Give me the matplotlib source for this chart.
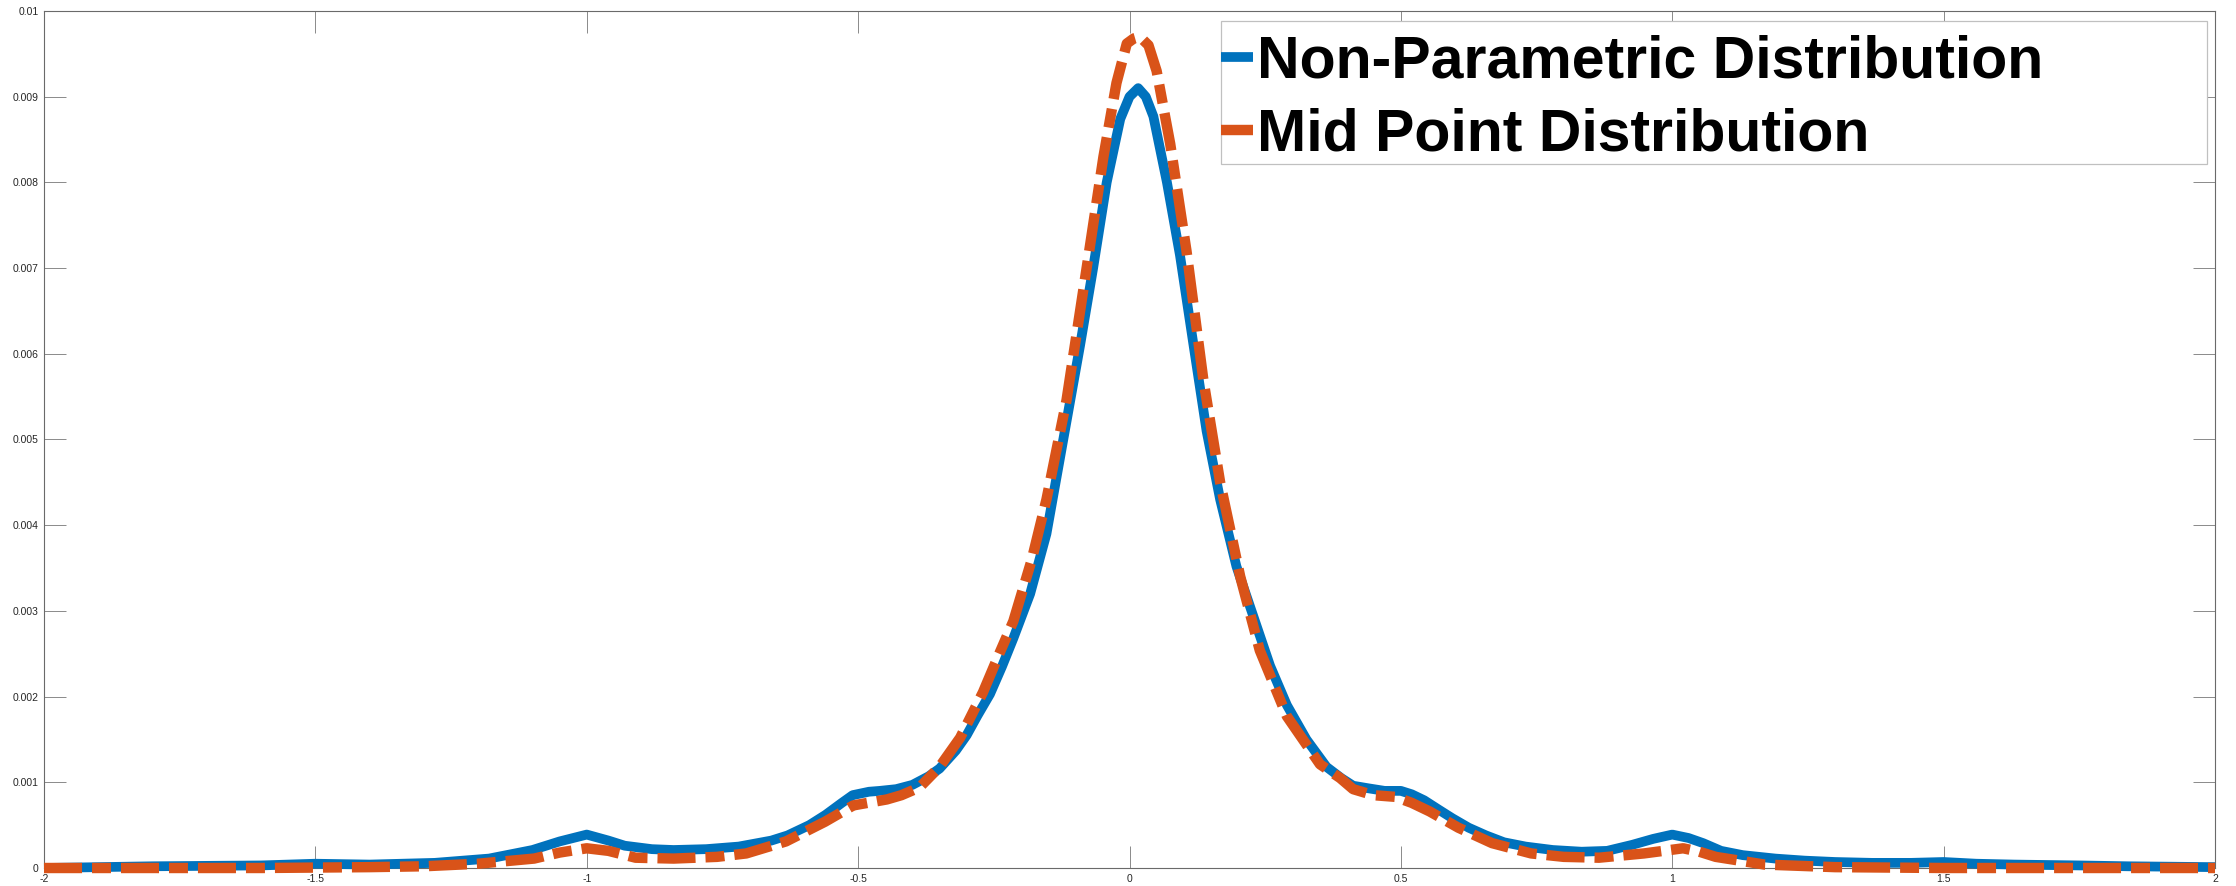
import matplotlib
matplotlib.use("Agg")
import matplotlib.pyplot as plt
from matplotlib.patches import Rectangle

# ---------------- data ----------------
x_nonparam = [-2.0, -1.8, -1.6, -1.5, -1.4, -1.28, -1.18, -1.1, -1.05, -1.0,
              -0.96, -0.93, -0.88, -0.84, -0.78, -0.72, -0.66, -0.63, -0.59, -0.56,
              -0.53, -0.51, -0.48, -0.46, -0.43, -0.40, -0.37, -0.35, -0.32, -0.30,
              -0.28, -0.257, -0.235, -0.214, -0.183, -0.153, -0.122, -0.091, -0.067, -0.042,
              -0.017, 0.0, 0.016, 0.03, 0.044, 0.069, 0.093, 0.118, 0.142, 0.167,
              0.197, 0.228, 0.259, 0.29, 0.326, 0.363, 0.39, 0.412, 0.44, 0.47,
              0.5, 0.52, 0.543, 0.57, 0.595, 0.625, 0.657, 0.69, 0.73, 0.78,
              0.833, 0.88, 0.926, 0.965, 1.0, 1.03, 1.057, 1.09, 1.13, 1.19,
              1.244, 1.3, 1.368, 1.44, 1.5, 1.56, 1.63, 1.75, 1.84, 2.0]
y_nonparam = [0.0, 0.00002, 0.00003, 0.00005, 0.00004, 0.00006, 0.00011, 0.00021, 0.00031, 0.00039,
              0.00032, 0.00026, 0.00022, 0.00021, 0.00022, 0.00025, 0.00032, 0.00038, 0.0005, 0.00062,
              0.00076, 0.00085, 0.00089, 0.0009, 0.00092, 0.00097, 0.00107, 0.00116, 0.00137, 0.00155,
              0.00178, 0.00203, 0.00235, 0.00268, 0.0032, 0.0039, 0.0050, 0.0061, 0.0070, 0.0080,
              0.00874, 0.0090, 0.0091, 0.0090, 0.00877, 0.0080, 0.00715, 0.0061, 0.0051, 0.0043,
              0.00352, 0.00294, 0.00236, 0.0019, 0.0015, 0.00118, 0.00105, 0.00096, 0.00093, 0.0009,
              0.0009, 0.00086, 0.00079, 0.00068, 0.00058, 0.00047, 0.00038, 0.0003, 0.00025, 0.00021,
              0.00019, 0.0002, 0.00027, 0.00034, 0.00039, 0.00035, 0.00029, 0.0002, 0.00015, 0.00011,
              0.000086, 0.00007, 0.00006, 0.00006, 0.00007, 0.00005, 0.00004, 0.00003, 0.00002, 0.00001]

x_midpoint = [-2.0, -1.6, -1.4, -1.3, -1.2, -1.097, -1.05, -1.0, -0.96, -0.91,
              -0.84, -0.76, -0.706, -0.633, -0.561, -0.509, -0.447, -0.42, -0.387, -0.35,
              -0.312, -0.27, -0.24, -0.214, -0.18, -0.153, -0.116, -0.079, -0.048, -0.024,
              -0.005, 0.008, 0.019, 0.035, 0.05, 0.075, 0.105, 0.136, 0.167, 0.204,
              0.24, 0.29, 0.351, 0.388, 0.412, 0.449, 0.49, 0.52, 0.553, 0.606,
              0.668, 0.74, 0.8, 0.865, 0.948, 1.02, 1.05, 1.08, 1.17, 1.3,
              1.5, 2.0]
y_midpoint = [0.0, 0.0, 0.00001, 0.00002, 0.00005, 0.00011, 0.00018, 0.00023, 0.0002, 0.00012,
              0.00011, 0.00013, 0.00017, 0.00031, 0.00054, 0.00073, 0.0008, 0.00085, 0.00094, 0.00118,
              0.00152, 0.00205, 0.0025, 0.00288, 0.0036, 0.0043, 0.00546, 0.0070, 0.0083, 0.00916,
              0.00962, 0.00968, 0.0097, 0.0096, 0.0093, 0.00845, 0.0072, 0.0057, 0.0045, 0.0034,
              0.00254, 0.00177, 0.00121, 0.00105, 0.00092, 0.00085, 0.00083, 0.00076, 0.00066, 0.00047,
              0.00029, 0.00017, 0.00013, 0.00012, 0.00017, 0.00023, 0.00019, 0.00013, 0.00004, 0.00001,
              0.0, 0.0]

series_labels = ["Non-Parametric Distribution", "Mid Point Distribution"]
x_ticks = [-2, -1.5, -1, -0.5, 0, 0.5, 1, 1.5, 2]
x_ticklabels = ["-2", "-1.5", "-1", "-0.5", "0", "0.5", "1", "1.5", "2"]
y_ticks = [0, 0.001, 0.002, 0.003, 0.004, 0.005, 0.006, 0.007, 0.008, 0.009, 0.01]
y_ticklabels = ["0", "0.001", "0.002", "0.003", "0.004", "0.005", "0.006",
                "0.007", "0.008", "0.009", "0.01"]

# ---------------- figure ----------------
plt.rcParams['font.family'] = ['Liberation Sans', 'DejaVu Sans']
W, H = 2236, 886
fig = plt.figure(figsize=(W / 100, H / 100), dpi=100)
L, R, T, B = 44, 2215, 11, 868
ax = fig.add_axes([L / W, (H - B) / H, (R - L) / W, (B - T) / H])

blue = '#0072BD'
orange = '#D95319'
ax.plot(x_nonparam, y_nonparam, color=blue, lw=7, solid_joinstyle='round',
        solid_capstyle='butt', clip_on=False, zorder=3, label=series_labels[0])
ax.plot(x_midpoint, y_midpoint, color=orange, lw=7.5,
        linestyle=(0, (3.65, 0.96, 1.82, 0.96)), dash_capstyle='butt',
        dash_joinstyle='round', clip_on=False, zorder=4, label=series_labels[1])

ax.set_xlim(-2, 2)
ax.set_ylim(0, 0.01)
ax.set_xticks(x_ticks)
ax.set_xticklabels(x_ticklabels)
ax.set_yticks(y_ticks)
ax.set_yticklabels(y_ticklabels)

axis_color = '#6a6a6a'
for s in ax.spines.values():
    s.set_color(axis_color)
    s.set_linewidth(0.8)
ax.tick_params(axis='both', which='major', direction='in', length=16, width=0.7,
               color='#8a8a8a', labelsize=7.5, labelcolor='#262626',
               top=True, right=True, pad=4)

# legend box (frame) drawn separately at the reference position
box_l, box_t, box_r, box_b = 1221, 21, 2207, 164
frame = Rectangle((box_l / W, (H - box_b) / H), (box_r - box_l) / W, (box_b - box_t) / H,
                  transform=fig.transFigure, facecolor='white', edgecolor='#c0c0c0',
                  linewidth=0.9, zorder=5, clip_on=False)
ax.add_patch(frame)

leg = ax.legend(loc='upper left',
                bbox_to_anchor=(1221 / W, (H - 35) / H),
                bbox_transform=fig.transFigure,
                prop={'family': 'Liberation Sans', 'weight': 'bold', 'size': 42.5},
                handlelength=0.54, handletextpad=0.07, borderpad=0.0,
                labelspacing=0.30, borderaxespad=0.0, frameon=False)
leg.set_zorder(6)

fig.savefig('out.png', dpi=100, facecolor='white')
